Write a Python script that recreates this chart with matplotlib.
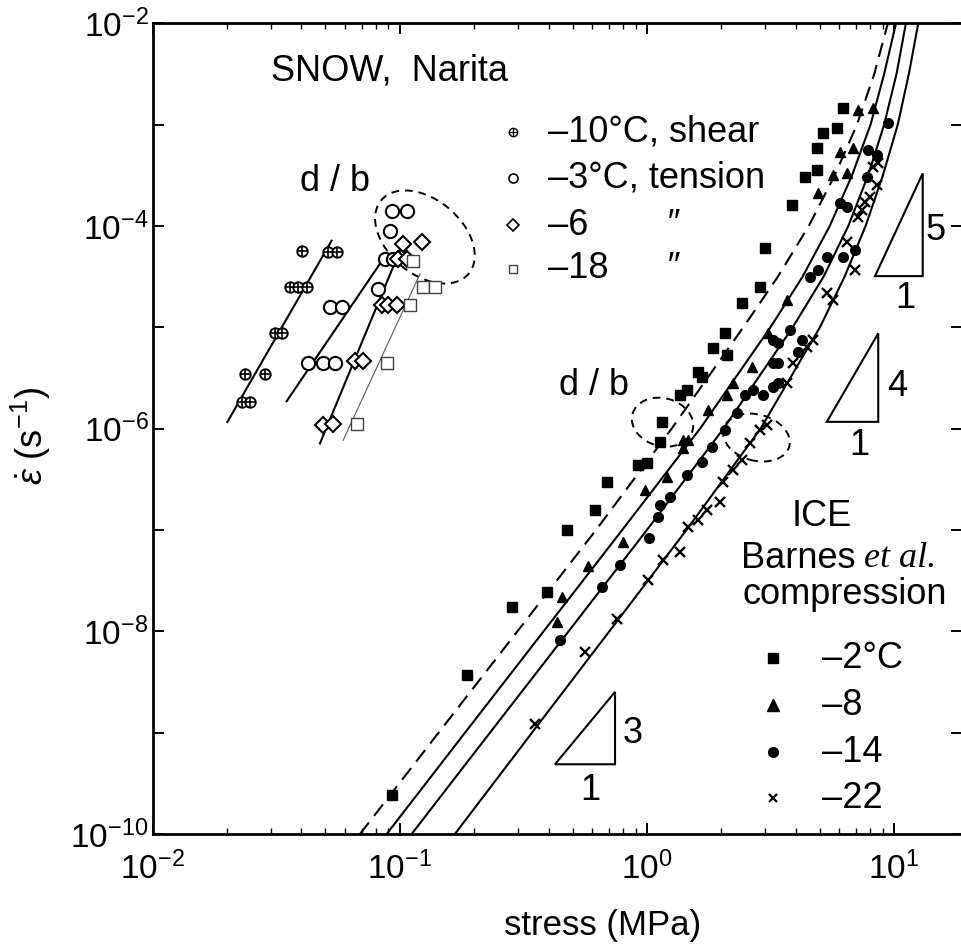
import numpy as np
import matplotlib
matplotlib.use('Agg')
import matplotlib.pyplot as plt
from matplotlib.patches import Ellipse, Polygon
from matplotlib.ticker import NullLocator, NullFormatter, LogLocator

plt.rcParams['font.family'] = ['Liberation Sans', 'DejaVu Sans']
plt.rcParams['mathtext.fontset'] = 'custom'
plt.rcParams['mathtext.rm'] = 'Liberation Sans'
plt.rcParams['mathtext.it'] = 'Liberation Sans:italic'
plt.rcParams['mathtext.bf'] = 'Liberation Sans:bold'

# values, stored as log10(stress / MPa) and log10(rate / s^-1)
# --- snow (Narita) ---
shear10_logs = [-1.397, -1.289, -1.255, -1.444, -1.411, -1.377, -1.505, -1.478, -1.626, -1.545, -1.640, -1.606]
shear10_loge = [-4.244, -4.260, -4.260, -4.602, -4.602, -4.602, -5.057, -5.057, -5.463, -5.463, -5.740, -5.740]
tens3_logs = [-1.033, -0.972, -1.040, -1.060, -1.026, -1.087, -1.282, -1.235, -1.370, -1.310, -1.262]
tens3_loge = [-3.854, -3.854, -4.049, -4.325, -4.325, -4.618, -4.797, -4.797, -5.350, -5.350, -5.350]
tens6_logs = [-0.986, -0.911, -1.006, -0.972, -1.073, -1.047, -1.013, -1.181, -1.148, -1.310, -1.269]
tens6_loge = [-4.179, -4.163, -4.325, -4.325, -4.780, -4.780, -4.780, -5.333, -5.333, -5.967, -5.951]
tens18_logs = [-0.945, -0.905, -0.858, -0.959, -1.053, -1.174]
tens18_loge = [-4.341, -4.602, -4.602, -4.780, -5.350, -5.951]

# snow fit lines (end points)
fit_shear10 = ([-1.698, -1.276], [-5.935, -4.146])
fit_tens3 = ([-1.458, -1.067], [-5.730, -4.325])
fit_tens6 = ([-1.323, -0.986], [-6.146, -4.163])
fit_tens18 = ([-1.229, -0.918], [-6.114, -4.472])

# --- ice (Barnes et al., compression) ---
ice2_logs = [-1.033, -0.729, -0.547, -0.406, -0.325, -0.210, -0.163, -0.035, 0.0, 0.053, 0.06, 0.134,
             0.161, 0.208, 0.222, 0.269, 0.323, 0.316, 0.384, 0.458, 0.478, 0.586, 0.64, 0.687, 0.687,
             0.714, 0.768, 0.795]
ice2_loge = [-9.618, -8.433, -7.759, -7.611, -7.002, -6.805, -6.525, -6.36, -6.343, -6.13, -5.933, -5.669,
             -5.62, -5.439, -5.489, -5.208, -5.274, -5.06, -4.764, -4.6, -4.221, -3.794, -3.514, -3.448,
             -3.234, -3.086, -3.037, -2.839]
ice8_logs = [-0.365, -0.345, -0.237, -0.095, -0.008, 0.08, 0.147, 0.147, 0.168, 0.249, 0.323, 0.35,
             0.424, 0.491, 0.566, 0.694, 0.754, 0.809, 0.781, 0.835, 0.855, 0.916]
ice8_loge = [-7.907, -7.66, -7.357, -7.117, -6.607, -6.476, -6.196, -6.113, -6.113, -5.817, -5.669, -5.554,
             -5.39, -5.06, -4.731, -3.674, -3.497, -3.481, -3.268, -3.234, -2.856, -2.839]
ice14_logs = [-0.352, -0.183, -0.109, 0.01, 0.046, 0.053, 0.093, 0.161, 0.222, 0.262, 0.316, 0.363,
              0.397, 0.431, 0.471, 0.512, 0.532, 0.512, 0.532, 0.512, 0.532, 0.613, 0.626, 0.579,
              0.66, 0.694, 0.728, 0.795, 0.842, 0.781, 0.809, 0.89, 0.896, 0.93, 0.977]
ice14_loge = [-8.088, -7.562, -7.348, -7.084, -6.871, -6.755, -6.673, -6.459, -6.328, -6.18, -6.015, -5.85,
              -5.669, -5.62, -5.669, -5.587, -5.554, -5.356, -5.356, -5.126, -5.159, -5.242, -5.126, -5.028,
              -4.501, -4.435, -4.304, -4.304, -4.238, -3.777, -3.81, -3.514, -3.251, -3.30, -2.987]
ice22_logs = [-0.453, -0.251, -0.122, 0.006, 0.066, 0.134, 0.167, 0.208, 0.242, 0.296, 0.309, 0.35,
              0.384, 0.417, 0.485, 0.458, 0.566, 0.592, 0.647, 0.673, 0.728, 0.754, 0.842, 0.809,
              0.855, 0.869, 0.883, 0.903, 0.93, 0.916, 0.936]
ice22_loge = [-8.91, -8.203, -7.874, -7.496, -7.298, -7.216, -6.969, -6.903, -6.805, -6.722, -6.525, -6.41,
              -6.311, -6.146, -5.965, -6.015, -5.554, -5.356, -5.193, -5.126, -4.665, -4.731, -4.436, -4.156,
              -3.909, -3.843, -3.761, -3.712, -3.596, -3.416, -3.382]

# ice fitted curves
curve_loge = [-10, -9, -8, -7, -6, -5, -4.5, -4, -3.5, -3, -2.5, -2]
curve2_logs = [-1.161, -0.843, -0.524, -0.206, 0.10, 0.39, 0.53, 0.655, 0.76, 0.85, 0.92, 0.975]
curve8_logs = [-1.053, -0.736, -0.418, -0.10, 0.215, 0.50, 0.63, 0.74, 0.83, 0.905, 0.96, 1.008]
curve14_logs = [-0.952, -0.635, -0.317, 0.0, 0.31, 0.59, 0.715, 0.815, 0.895, 0.96, 1.01, 1.048]
curve22_logs = [-0.777, -0.465, -0.152, 0.16, 0.46, 0.70, 0.80, 0.885, 0.955, 1.015, 1.06, 1.098]


def p10(v):
    return np.power(10.0, np.asarray(v, dtype=float))


fig = plt.figure(figsize=(9.62, 9.46), dpi=100)
ax = fig.add_axes([0.1587, 0.1184, 0.8413, 0.857])
ax.set_xscale('log')
ax.set_yscale('log')
ax.set_xlim(1e-2, 10 ** 1.275)
ax.set_ylim(1e-10, 1e-2)

lw = 1.5
# ice curves
ax.plot(p10(curve2_logs), p10(curve_loge), color='k', lw=lw, dashes=(7, 4))
for c in (curve8_logs, curve14_logs, curve22_logs):
    ax.plot(p10(c), p10(curve_loge), color='k', lw=lw)

# snow fits
for fx, fy in (fit_shear10, fit_tens3, fit_tens6):
    ax.plot(p10(fx), p10(fy), color='k', lw=lw)
ax.plot(p10(fit_tens18[0]), p10(fit_tens18[1]), color='0.35', lw=0.8)

# ice data
ax.plot(p10(ice2_logs), p10(ice2_loge), 's', color='k', ms=7, ls='none')
ax.plot(p10(ice8_logs), p10(ice8_loge), '^', color='k', ms=7.5, ls='none')
ax.plot(p10(ice14_logs), p10(ice14_loge), 'o', color='k', ms=7, ls='none')
ax.plot(p10(ice22_logs), p10(ice22_loge), 'x', color='k', ms=6.5, mew=1.7, ls='none')

# snow data
ax.plot(p10(shear10_logs), p10(shear10_loge), 'o', mfc='white', mec='k', mew=1.4, ms=7.5, ls='none', zorder=4)
ax.plot(p10(shear10_logs), p10(shear10_loge), '+', color='k', mew=1.2, ms=7, ls='none', zorder=5)
ax.plot(p10(tens3_logs), p10(tens3_loge), 'o', mfc='white', mec='k', mew=1.5, ms=9.5, ls='none', zorder=4)
ax.plot(p10(tens6_logs), p10(tens6_loge), 'D', mfc='white', mec='k', mew=1.5, ms=8.5, ls='none', zorder=4)
ax.plot(p10(tens18_logs), p10(tens18_loge), 's', mfc='white', mec='0.25', mew=1.0, ms=8.5, ls='none', zorder=4)

# dashed loops around d/b points (axes fraction)
for (cx, cy, w, h, ang) in [(0.3364, 0.7364, 0.141, 0.092, -40),
                            (0.630, 0.508, 0.077, 0.059, -15),
                            (0.746, 0.489, 0.084, 0.057, -15)]:
    ax.add_patch(Ellipse((cx, cy), w, h, angle=ang, transform=ax.transAxes, fill=False,
                         ec='k', lw=1.4, ls=(0, (4, 3))))

# slope triangles: (left, right, base, top) in log10 units
for (x0, x1, y0, y1) in [(0.923, 1.116, -4.495, -3.481),
                         (0.728, 0.936, -5.933, -5.060),
                         (-0.372, -0.129, -9.312, -8.598)]:
    ax.add_patch(Polygon([(10 ** x0, 10 ** y0), (10 ** x1, 10 ** y0), (10 ** x1, 10 ** y1)],
                         closed=True, fill=False, ec='k', lw=1.5))
tfs = 26
for (tx, ty, s) in [(1.166, -4.04, '5'), (1.044, -4.712, '1'), (1.011, -5.587, '4'),
                    (0.858, -6.17, '1'), (-0.056, -9.006, '3'), (-0.230, -9.569, '1')]:
    ax.text(10 ** tx, 10 ** ty, s, fontsize=tfs, ha='center', va='center')

# annotations
ax.text(0.146, 0.941, 'SNOW,  Narita', transform=ax.transAxes, fontsize=tfs, ha='left', va='center')
ax.text(0.225, 0.805, 'd / b', transform=ax.transAxes, fontsize=tfs, ha='center', va='center')
ax.text(0.545, 0.553, 'd / b', transform=ax.transAxes, fontsize=tfs, ha='center', va='center')
ax.text(0.827, 0.392, 'ICE', transform=ax.transAxes, fontsize=tfs, ha='center', va='center')
ax.text(0.869, 0.340, 'Barnes', transform=ax.transAxes, fontsize=tfs, ha='right', va='center')
ax.text(0.879, 0.340, 'et al.', transform=ax.transAxes, fontsize=tfs, ha='left', va='center',
        family='Liberation Serif', style='italic')
ax.text(0.855, 0.296, 'compression', transform=ax.transAxes, fontsize=tfs, ha='center', va='center')

# snow legend
snow_labels = ['\u201310\u00b0C, shear', '\u20133\u00b0C, tension', '\u20136', '\u201318']
snow_rows = [0.866, 0.809, 0.751, 0.697]
mk_x = 0.445
ax.plot(mk_x, snow_rows[0], 'o', mfc='white', mec='k', ms=6, mew=1.0, transform=ax.transAxes)
ax.plot(mk_x, snow_rows[0], '+', color='k', ms=5.5, mew=0.9, transform=ax.transAxes)
ax.plot(mk_x, snow_rows[1], 'o', mfc='white', mec='k', ms=6.5, mew=1.2, transform=ax.transAxes)
ax.plot(mk_x, snow_rows[2], 'D', mfc='white', mec='k', ms=6.5, mew=1.2, transform=ax.transAxes)
ax.plot(mk_x, snow_rows[3], 's', mfc='white', mec='0.25', ms=6, mew=1.0, transform=ax.transAxes)
for lab, ry in zip(snow_labels, snow_rows):
    ax.text(0.488, ry, lab, transform=ax.transAxes, fontsize=tfs, ha='left', va='center')
for ry in snow_rows[2:]:
    ax.text(0.642, ry, '\u2033', transform=ax.transAxes, fontsize=tfs, ha='center', va='center',
            style='italic')

# ice legend
ice_labels = ['\u20132\u00b0C', '\u20138', '\u201314', '\u201322']
ice_rows = [0.217, 0.159, 0.101, 0.044]
ice_mk = [('s', 7, 1), ('^', 8, 1), ('o', 7, 1), ('x', 6, 1.6)]
for (m, ms, mew), ry, lab in zip(ice_mk, ice_rows, ice_labels):
    ax.plot(0.766, ry, m, color='k', ms=ms, mew=mew, transform=ax.transAxes)
    ax.text(0.827, ry, lab, transform=ax.transAxes, fontsize=tfs, ha='left', va='center')

# axes cosmetics
for sp in ax.spines.values():
    sp.set_linewidth(2.0)
ax.set_xticks([1e-2, 1e-1, 1e0, 1e1])
ax.set_xticklabels([r'$10^{-2}$', r'$10^{-1}$', r'$10^{0}$', r'$10^{1}$'])
ax.xaxis.set_minor_locator(LogLocator(base=10, subs=np.arange(2, 10), numticks=20))
ax.xaxis.set_minor_formatter(NullFormatter())
ydec = list(range(-10, -1))
ax.set_yticks([10.0 ** k for k in ydec])
ax.set_yticklabels([r'$10^{%d}$' % k if k % 2 == 0 else '' for k in ydec])
ax.yaxis.set_minor_locator(NullLocator())
ax.tick_params(which='both', direction='in', top=True, right=True)
ax.tick_params(which='major', length=8, width=1.4, labelsize=24)
ax.tick_params(which='minor', length=4, width=1.0)
ax.tick_params(axis='x', which='major', pad=13)
ax.tick_params(axis='y', which='major', pad=3)

ax.set_xlabel('stress (MPa)', fontsize=25, va='center')
ax.xaxis.set_label_coords(0.556, -0.113)
ax.set_ylabel(r'$\dot{\varepsilon}\ (\mathrm{s}^{-1})$', fontsize=tfs, va='center')
ax.yaxis.set_label_coords(-0.150, 0.491)

fig.savefig('out.png', dpi=100)
